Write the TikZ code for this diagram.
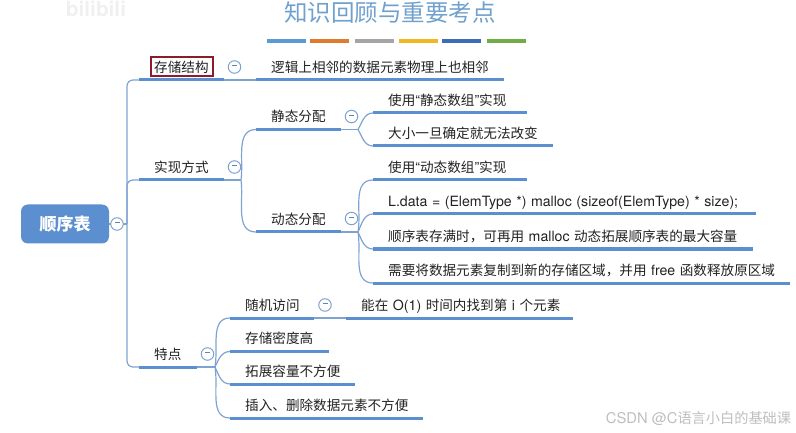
\documentclass[tikz,border=0pt]{standalone}
\usepackage{fontspec}
\setmainfont{Noto Sans CJK SC}
\newfontfamily\latinfont[Scale=1.04]{TeX Gyre Heros}
\usetikzlibrary{arrows.meta,positioning,calc}
\definecolor{blau}{HTML}{5B8FD0}
\definecolor{blaul}{HTML}{7FA3D1}
\definecolor{titel}{HTML}{6FA0CE}
\definecolor{dunkelrot}{HTML}{8E1B2A}
\definecolor{schrift}{HTML}{222222}
\definecolor{hgrau}{HTML}{BEBEBE}
\definecolor{wasser}{HTML}{F0F0F0}
\tikzset{
  topic/.style={anchor=south west,inner xsep=0pt,inner ysep=4.5pt,text=schrift,font=\fontsize{13.6}{15}\selectfont,
    text height=11pt,text depth=3pt,align=left,execute at begin node={\hspace*{15pt}}},
  uline/.style={blau,line width=3pt},
  link/.style={blaul,line width=1.2pt},
  knopf/.style={circle,draw=blaul,fill=white,line width=1pt,minimum size=12.5pt,inner sep=0pt},
  bar/.style={line width=4pt},
}
\newcommand{\minus}{\textcolor{blaul!80!black}{\rule[2.5pt]{5pt}{0.8pt}}}
\newcommand{\lat}[1]{{\latinfont #1}}
\begin{document}
\begin{tikzpicture}[x=1pt,y=-1pt]
  \useasboundingbox (0,0) rectangle (796,433);
  \node[text=wasser,font=\fontsize{20}{22}\selectfont\bfseries] (logo) at (96,9) {\lat{bilibili}};
  \node[text=titel,font=\fontsize{23.5}{26}\selectfont] (title) at (390,13) {知识回顾与重要考点};
  \foreach \nm/\xa/\farb in {b1/267/5B9BD5,b2/310/E07B2E,b3/355/A5A5A5,b4/399/F2B824,b5/442/3F6DB5,b6/487/70AD47}{
    \definecolor{tmp}{HTML}{\farb}
    \coordinate (\nm a) at (\xa,41);
    \coordinate (\nm b) at (\xa+39,41);
    \draw[bar,tmp] (\nm a)--(\nm b);
  }
  % topics: name / left / right / underline / text
  \foreach \nm/\xa/\xb/\yy/\txt in {
    cc/139/224/80/{存储结构},
    ccx/256/504/80/{逻辑上相邻的数据元素物理上也相邻},
    sx/139/224/180/{实现方式},
    jt/256/341/129.5/{静态分配},
    jt1/373/527/113/{使用\lat{“}静态数组\lat{”}实现},
    jt2/373/553/146/{大小一旦确定就无法改变},
    dt/256/341/232/{动态分配},
    dt1/373/527/180/{使用\lat{“}动态数组\lat{”}实现},
    dt2/373/756/214/{\lat{L.data = (ElemType *) malloc (sizeof(ElemType) * size);}},
    dt3/373/753/249/{顺序表存满时，可再用 \lat{malloc} 动态拓展顺序表的最大容量},
    dt4/373/790/283/{需要将数据元素复制到新的存储区域，并用 \lat{free} 函数释放原区域},
    td/139/197/367/{特点},
    td1/230/314/318/{随机访问},
    td1x/346/573/318/{能在 \lat{O(1)} 时间内找到第 \lat{i} 个元素},
    td2/230/329/351.5/{存储密度高},
    td3/230/355/384/{拓展容量不方便},
    td4/230/423/418/{插入、删除数据元素不方便}}{
    \pgfmathsetmacro{\breite}{\xb-\xa}
    \node[topic,text width=\breite pt] (\nm) at (\xa,\yy) {\txt};
    \draw[uline] (\nm.south west)--(\nm.south east);
  }
  \node[draw=dunkelrot,line width=2pt,minimum width=62pt,minimum height=19pt,inner sep=0pt] (mark) at (181.5,66.5) {};
  \node[fill=blau,rounded corners=7pt,text=white,font=\fontsize{17}{19}\selectfont\bfseries,minimum width=88pt,minimum height=39pt,inner sep=0pt] (root) at (65,224) {顺序表};
  % hubs
  \coordinate (hroot) at (127,224);
  \coordinate (hsx) at (241,180);
  \coordinate (hjt) at (358,129.5);
  \coordinate (hdt) at (358,232);
  \coordinate (htd) at (215,367);
  \draw[link] (root.east)--(hroot);
  \foreach \nm in {cc,sx,td}
    \draw[link,rounded corners=6pt] (hroot) |- (\nm.south west);
  \draw[link] (cc.south east)--(ccx.south west);
  \draw[link] (td1.south east)--(td1x.south west);
  \draw[link] (sx.south east)--(hsx);
  \draw[link] (jt.south east)--(hjt);
  \draw[link] (dt.south east)--(hdt);
  \draw[link] (td.south east)--(htd);
  \draw[link] (hsx) to[out=82,in=180] (jt.south west);
  \draw[link] (hsx) to[out=-82,in=180] (dt.south west);
  \draw[link] (hjt) to[out=60,in=180] (jt1.south west);
  \draw[link] (hjt) to[out=-60,in=180] (jt2.south west);
  \draw[link] (hdt) to[out=80,in=180] (dt1.south west);
  \draw[link] (hdt) to[out=65,in=180] (dt2.south west);
  \draw[link] (hdt) to[out=-65,in=180] (dt3.south west);
  \draw[link] (hdt) to[out=-80,in=180] (dt4.south west);
  \draw[link] (htd) to[out=80,in=180] (td1.south west);
  \draw[link] (htd) to[out=65,in=180] (td2.south west);
  \draw[link] (htd) to[out=-65,in=180] (td3.south west);
  \draw[link] (htd) to[out=-80,in=180] (td4.south west);
  % collapse buttons
  \foreach \nm/\xx/\yy in {k0/117/224,k1/234.5/67,k2/234.5/167,k3/351.5/116.5,k4/351.5/218.5,k5/207.5/354,k6/325/305}
    \node[knopf] (\nm) at (\xx,\yy) {\minus};
  \node[text=hgrau,font=\fontsize{14.2}{16}\selectfont] (csdn) at (698.5,419) {\lat{CSDN @C}语言小白的基础课};
\end{tikzpicture}
\end{document}
